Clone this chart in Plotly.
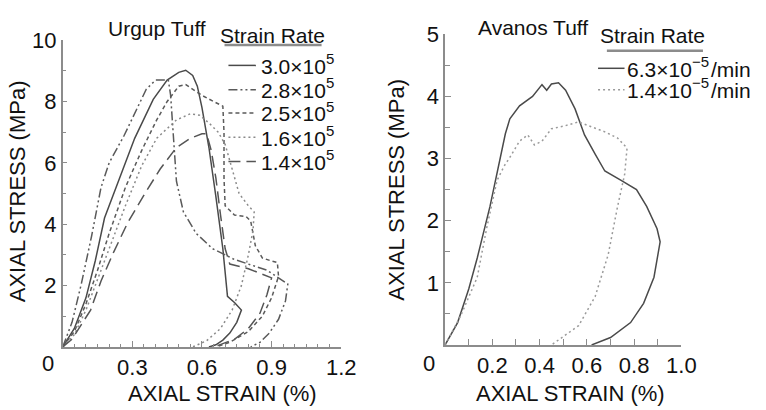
import plotly.graph_objects as go

W, H = 766, 410

# ---------------- data: Urgup Tuff ----------------
urgup_base = ["3.0×10", "2.8×10", "2.5×10", "1.6×10", "1.4×10"]
urgup_exp = ["5", "5", "5", "5", "5"]

u30_strain = [0, 0.05, 0.10, 0.14, 0.18, 0.23, 0.31, 0.39, 0.45, 0.50, 0.53, 0.56, 0.58, 0.60,
              0.63, 0.66, 0.69, 0.71, 0.74, 0.77, 0.75, 0.72, 0.69, 0.66, 0.63]
u30_stress = [0, 0.6, 1.6, 2.8, 4.2, 5.2, 6.8, 8.07, 8.7, 8.95, 9.02, 8.85, 8.5, 7.8,
              6.5, 4.9, 3.2, 1.65, 1.45, 1.2, 0.8, 0.45, 0.22, 0.07, 0]

u28_strain = [0, 0.04, 0.08, 0.124, 0.165, 0.20, 0.265, 0.31, 0.36, 0.40, 0.455, 0.465, 0.47,
              0.477, 0.49, 0.52, 0.575, 0.646, 0.74, 0.88, 0.97, 0.96, 0.93, 0.89, 0.85, 0.81]
u28_stress = [0, 0.8, 2.05, 3.6, 5.2, 6.0, 6.9, 7.6, 8.4, 8.7, 8.7, 8.2, 7.6,
              6.6, 5.4, 4.4, 3.7, 3.2, 2.85, 2.5, 2.05, 1.5, 0.9, 0.45, 0.15, 0]

u25_strain = [0, 0.05, 0.10, 0.15, 0.20, 0.27, 0.34, 0.405, 0.45, 0.50, 0.53, 0.56, 0.60, 0.65,
              0.69, 0.695, 0.695, 0.70, 0.74, 0.79, 0.81, 0.83, 0.86, 0.90, 0.925, 0.93, 0.90,
              0.86, 0.80, 0.72, 0.66]
u25_stress = [0, 0.5, 1.4, 2.5, 3.7, 5.2, 6.4, 7.4, 8.0, 8.5, 8.55, 8.4, 8.2, 8.0,
              7.85, 7.0, 5.5, 4.6, 4.3, 4.25, 4.1, 3.3, 2.9, 2.8, 2.75, 2.3, 1.6,
              1.0, 0.5, 0.15, 0]

u16_strain = [0, 0.05, 0.10, 0.15, 0.20, 0.27, 0.34, 0.405, 0.49, 0.55, 0.59, 0.63, 0.67, 0.70,
              0.73, 0.76, 0.80, 0.825, 0.82, 0.80, 0.77, 0.73, 0.68, 0.62, 0.56]
u16_stress = [0, 0.4, 1.2, 2.2, 3.2, 4.6, 5.9, 6.8, 7.4, 7.6, 7.55, 7.3, 7.0, 6.6,
              5.8, 5.0, 4.6, 4.4, 3.8, 3.0, 2.0, 1.2, 0.6, 0.2, 0]

u14_strain = [0, 0.04, 0.12, 0.165, 0.22, 0.28, 0.35, 0.42, 0.49, 0.55, 0.60, 0.62, 0.64, 0.66,
              0.68, 0.70, 0.72, 0.80, 0.90, 0.88, 0.85, 0.80, 0.74, 0.67, 0.64]
u14_stress = [0, 0.25, 1.2, 2.15, 3.1, 4.05, 4.95, 5.8, 6.5, 6.8, 6.95, 6.95, 6.4, 5.5,
              4.3, 3.2, 2.7, 2.55, 2.25, 1.7, 1.1, 0.6, 0.25, 0.05, 0]

# ---------------- data: Avanos Tuff ----------------
avanos_base = ["6.3×10", "1.4×10"]
avanos_exp = ["−5", "−5"]
avanos_unit = "/min"

a63_strain = [0, 0.053, 0.10, 0.136, 0.19, 0.232, 0.255, 0.274, 0.315, 0.37, 0.41, 0.43, 0.45,
              0.48, 0.51, 0.55, 0.59, 0.635, 0.676, 0.745, 0.81, 0.853, 0.897, 0.91, 0.884,
              0.84, 0.785, 0.70, 0.62]
a63_stress = [0, 0.36, 0.9, 1.4, 2.23, 3.0, 3.4, 3.64, 3.85, 4.0, 4.19, 4.1, 4.2,
              4.22, 4.1, 3.8, 3.38, 3.07, 2.8, 2.65, 2.5, 2.23, 1.87, 1.66, 1.09,
              0.67, 0.36, 0.12, 0]

a14_strain = [0, 0.066, 0.136, 0.178, 0.22, 0.25, 0.274, 0.315, 0.35, 0.378, 0.41, 0.45, 0.51,
              0.565, 0.606, 0.676, 0.73, 0.77, 0.76, 0.73, 0.69, 0.635, 0.565, 0.49, 0.45]
a14_stress = [0, 0.47, 1.09, 1.92, 2.65, 2.88, 3.02, 3.28, 3.38, 3.22, 3.28, 3.48, 3.53,
              3.59, 3.53, 3.43, 3.33, 3.17, 2.75, 2.23, 1.45, 0.78, 0.31, 0.1, 0]

# ---------------- styles ----------------
FONT = "Liberation Sans, Arial, Helvetica, sans-serif"
FS = 21
SUP = 15
urgup_styles = [
    dict(color="#4a4a4a", dash="solid"),
    dict(color="#5a5a5a", dash="9px,3px,2px,3px,2px,3px"),
    dict(color="#5a5a5a", dash="4px,3px"),
    dict(color="#8a8a8a", dash="2px,3px"),
    dict(color="#555555", dash="12px,6px"),
]
avanos_styles = [
    dict(color="#4a4a4a", dash="solid"),
    dict(color="#9a9a9a", dash="2px,3px"),
]

fig = go.Figure()

urgup_series = [(u30_strain, u30_stress), (u28_strain, u28_stress), (u25_strain, u25_stress),
                (u16_strain, u16_stress), (u14_strain, u14_stress)]
for (xs, ys), st, b, e in zip(urgup_series, urgup_styles, urgup_base, urgup_exp):
    fig.add_trace(go.Scatter(x=xs, y=ys, mode="lines", xaxis="x", yaxis="y",
                             line=dict(color=st["color"], dash=st["dash"], width=1.5),
                             name=b + "^" + e, showlegend=False))

avanos_series = [(a63_strain, a63_stress), (a14_strain, a14_stress)]
for (xs, ys), st, b, e in zip(avanos_series, avanos_styles, avanos_base, avanos_exp):
    fig.add_trace(go.Scatter(x=xs, y=ys, mode="lines", xaxis="x2", yaxis="y2",
                             line=dict(color=st["color"], dash=st["dash"], width=1.5),
                             name=b + "^" + e + avanos_unit, showlegend=False))

def px_x(p):
    return p / W

def px_y(p):
    return 1 - p / H

axis_common = dict(showgrid=False, zeroline=False, showline=True, linecolor="#8c8c8c",
                   linewidth=1.5, ticks="inside", tickcolor="#8c8c8c", tickwidth=1,
                   tickfont=dict(family=FONT, size=22, color="#111"))

fig.update_layout(
    width=W, height=H, margin=dict(l=0, r=0, t=0, b=0),
    font=dict(family=FONT, size=FS, color="#111"),
    paper_bgcolor="white", plot_bgcolor="white", showlegend=False,
    xaxis=dict(domain=[px_x(64), px_x(348)], range=[0, 1.2], anchor="y",
               tickvals=[0.3, 0.6, 0.9, 1.2], ticktext=["0.3", "0.6", "0.9", "1.2"],
               ticklen=6, minor=dict(dtick=0.05, tick0=0, ticklen=3, ticks="inside",
                                     tickcolor="#8c8c8c"), **axis_common),
    yaxis=dict(domain=[px_y(345), px_y(29)], range=[0, 10], anchor="x",
               tickvals=[2, 4, 6, 8, 10], ticklen=5,
               minor=dict(dtick=1, tick0=0, ticklen=4, ticks="inside", tickcolor="#8c8c8c"),
               **axis_common),
    xaxis2=dict(domain=[px_x(454), px_x(695)], range=[0, 1.0], anchor="y2",
                tickvals=[0.2, 0.4, 0.6, 0.8, 1.0], ticktext=["0.2", "0.4", "0.6", "0.8", "1.0"],
                ticklen=6, minor=dict(dtick=0.1, tick0=0, ticklen=6, ticks="inside",
                                      tickcolor="#8c8c8c"), **axis_common),
    yaxis2=dict(domain=[px_y(343), px_y(23)], range=[0, 5], anchor="x2",
                tickvals=[1, 2, 3, 4, 5], ticklen=6,
                minor=dict(dtick=0.5, tick0=0, ticklen=5, ticks="inside", tickcolor="#8c8c8c"),
                **axis_common),
)

annotations = []
shapes = []

def ann(text, x, y, size=FS, xanchor="center", yanchor="middle", angle=0):
    annotations.append(dict(text=text, x=px_x(x), y=px_y(y), xref="paper", yref="paper",
                            showarrow=False, xanchor=xanchor, yanchor=yanchor, borderpad=0,
                            textangle=angle, font=dict(family=FONT, size=size, color="#111")))

# origin "0" labels
ann("0", 49, 362, size=22)
ann("0", 438, 362, size=22)
# panel titles
ann("Urgup Tuff", 160, 17)
ann("Avanos Tuff", 544, 16)
# axis titles
ann("AXIAL STRAIN (%)", 227, 393, size=22)
ann("AXIAL STRAIN (%)", 582, 393, size=22)
ann("AXIAL STRESS (MPa)", 18, 185, size=22, angle=-90)
ann("AXIAL STRESS (MPa)", 405, 183, size=22, angle=-90)

BASE_W = 3.086 * FS  # width of "d.d×10" in Arial-metric font
GAP = 1.5

# custom legend - Urgup
ann("Strain Rate", 278, 24)
shapes.append(dict(type="line", xref="paper", yref="paper", x0=px_x(229), x1=px_x(328),
                   y0=px_y(34), y1=px_y(34), line=dict(color="#8c8c8c", width=2.5)))
leg_y = [55, 80, 104, 129, 154]
for b, e, st, yy in zip(urgup_base, urgup_exp, urgup_styles, leg_y):
    shapes.append(dict(type="line", xref="paper", yref="paper", x0=px_x(233), x1=px_x(261),
                       y0=px_y(yy), y1=px_y(yy),
                       line=dict(color=st["color"], dash=st["dash"], width=1.5)))
    ann(b, 265, yy + 1, xanchor="left")
    ann(e, 265 + BASE_W + GAP, yy - 7, size=SUP, xanchor="left")

# custom legend - Avanos
ann("Strain Rate", 666, 24)
shapes.append(dict(type="line", xref="paper", yref="paper", x0=px_x(619), x1=px_x(717),
                   y0=px_y(40), y1=px_y(40), line=dict(color="#8c8c8c", width=2.5)))
leg_y2 = [58, 80]
for b, e, st, yy in zip(avanos_base, avanos_exp, avanos_styles, leg_y2):
    shapes.append(dict(type="line", xref="paper", yref="paper", x0=px_x(610), x1=px_x(637),
                       y0=px_y(yy), y1=px_y(yy),
                       line=dict(color=st["color"], dash=st["dash"], width=1.5)))
    x0 = 639
    ann(b, x0, yy + 1, xanchor="left")
    ann(e, x0 + BASE_W + GAP, yy - 7, size=SUP, xanchor="left")
    ann(avanos_unit, x0 + BASE_W + 2 * GAP + 1.14 * SUP, yy + 1, xanchor="left")

fig.update_layout(annotations=annotations, shapes=shapes)
fig.write_html("out.html")
